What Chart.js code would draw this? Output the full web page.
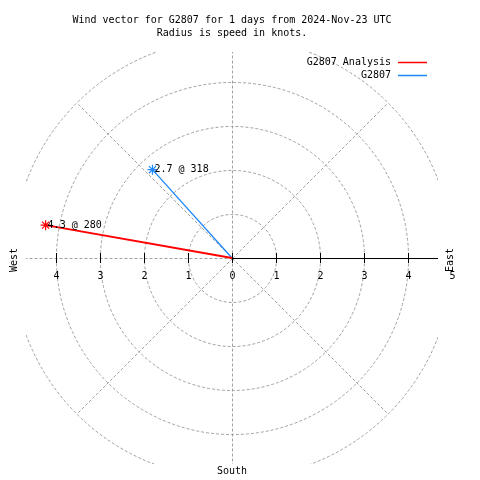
<!DOCTYPE html>
<html>
<head>
<meta charset="utf-8">
<script src="https://cdn.jsdelivr.net/npm/chart.js@4.4.0/dist/chart.umd.min.js"></script>
<style>
  html, body { margin: 0; padding: 0; background: #fff; }
  #caja { width: 480px; height: 480px; }
</style>
</head>
<body>
<div id="caja"><canvas id="grafico" width="480" height="480"></canvas></div>
<script>
// datos
const series = ['G2807 Analysis', 'G2807'];
const velocidades = [4.3, 2.7];      // nudos
const direcciones = [280, 318];      // grados, desde el norte
const colores = ['#ff0000', '#1e88ff'];
const grosores = [2, 1.3];
const etiquetasTicks = [-4, -3, -2, -1, 0, 1, 2, 3, 4, 5];
const anillos = [1, 2, 3, 4, 5];
const radios = [0, 45, 90, 135, 180, 225, 270, 315];
const titulo = ['Wind vector for G2807 for 1 days from 2024-Nov-23 UTC', 'Radius is speed in knots.'];
const LIMITE = 4.68;

const fuente = '10px "DejaVu Sans Mono", "Liberation Mono", monospace';

function aXY(vel, dir) {
  const a = dir * Math.PI / 180;
  return { x: vel * Math.sin(a), y: vel * Math.cos(a) };
}

const datasets = series.map((nombre, i) => ({
  label: nombre,
  data: [{ x: 0, y: 0 }, aXY(velocidades[i], direcciones[i])],
  showLine: true,
  borderColor: colores[i],
  borderWidth: grosores[i],
  pointStyle: 'star',
  pointRadius: [0, 5],
  pointBorderColor: colores[i],
  pointBorderWidth: 1.2,
  order: i
}));

const rejilla = {
  id: 'rejilla',
  beforeDatasetsDraw(chart) {
    const { ctx, chartArea: ca, scales: { x, y } } = chart;
    const cx = x.getPixelForValue(0), cy = y.getPixelForValue(0);
    const paso = x.getPixelForValue(1) - cx;
    ctx.save();
    ctx.beginPath();
    ctx.rect(ca.left, ca.top, ca.right - ca.left, ca.bottom - ca.top);
    ctx.clip();
    ctx.translate(0.5, 0.5);
    ctx.strokeStyle = '#a0a0a0';
    ctx.lineWidth = 1;
    ctx.setLineDash([3, 2]);
    anillos.forEach(r => {
      ctx.beginPath();
      ctx.arc(cx, cy, r * paso, 0, Math.PI * 2);
      ctx.stroke();
    });
    const rmax = anillos[anillos.length - 1];
    radios.forEach(g => {
      if (g === 90) return; // eje este dibujado aparte
      const p = aXY(rmax, g);
      ctx.beginPath();
      ctx.moveTo(cx, cy);
      ctx.lineTo(x.getPixelForValue(p.x), y.getPixelForValue(p.y));
      ctx.stroke();
    });
    ctx.restore();

    // eje horizontal este (solido) y marcas
    ctx.save();
    ctx.strokeStyle = '#000';
    ctx.lineWidth = 1;
    ctx.beginPath();
    ctx.moveTo(cx, Math.round(cy) + 0.5);
    ctx.lineTo(ca.right, Math.round(cy) + 0.5);
    ctx.stroke();
    ctx.font = fuente;
    ctx.fillStyle = '#000';
    ctx.textAlign = 'center';
    ctx.textBaseline = 'middle';
    etiquetasTicks.forEach(v => {
      const px = Math.round(x.getPixelForValue(v)) + 0.5;
      if (Math.abs(v) < LIMITE) {
        ctx.beginPath();
        ctx.moveTo(px, cy - 5);
        ctx.lineTo(px, cy + 5);
        ctx.stroke();
      }
      ctx.fillText(String(Math.abs(v)), px, cy + 18);
    });
    ctx.restore();
  },
  afterDraw(chart) {
    const { ctx, scales: { x, y } } = chart;
    const cx = x.getPixelForValue(0), cy = y.getPixelForValue(0);
    ctx.save();
    ctx.font = fuente;
    ctx.fillStyle = '#000';
    ctx.textBaseline = 'middle';

    // titulo
    ctx.textAlign = 'center';
    ctx.fillText(titulo[0], 232, 20);
    ctx.fillText(titulo[1], 232, 33);

    // leyenda
    series.forEach((nombre, i) => {
      const yy = 62 + i * 13;
      ctx.textAlign = 'right';
      ctx.fillStyle = '#000';
      ctx.fillText(nombre, 391, yy);
      ctx.strokeStyle = colores[i];
      ctx.lineWidth = 1.5;
      ctx.beginPath();
      ctx.moveTo(398, Math.round(yy) + 0.5);
      ctx.lineTo(427, Math.round(yy) + 0.5);
      ctx.stroke();
    });

    // etiquetas de los puntos
    ctx.textAlign = 'left';
    ctx.fillStyle = '#000';
    series.forEach((nombre, i) => {
      const p = aXY(velocidades[i], direcciones[i]);
      ctx.fillText(velocidades[i].toFixed(1) + ' @ ' + direcciones[i],
        x.getPixelForValue(p.x) + 2, y.getPixelForValue(p.y));
    });

    // rumbos
    ctx.textAlign = 'center';
    ctx.fillText('South', cx, 471);
    [['West', 14], ['East', 450]].forEach(([t, px]) => {
      ctx.save();
      ctx.translate(px, cy + 2);
      ctx.rotate(-Math.PI / 2);
      ctx.fillText(t, 0, 0);
      ctx.restore();
    });
    ctx.restore();
  }
};

new Chart(document.getElementById('grafico'), {
  type: 'scatter',
  data: { datasets },
  options: {
    responsive: false,
    animation: false,
    layout: { padding: { left: 26, top: 52, right: 42, bottom: 16 } },
    plugins: {
      legend: { display: false },
      title: { display: false },
      tooltip: { enabled: false }
    },
    scales: {
      x: { type: 'linear', min: -LIMITE, max: LIMITE, display: false },
      y: { type: 'linear', min: -LIMITE, max: LIMITE, display: false }
    }
  },
  plugins: [rejilla]
});
</script>
</body>
</html>
